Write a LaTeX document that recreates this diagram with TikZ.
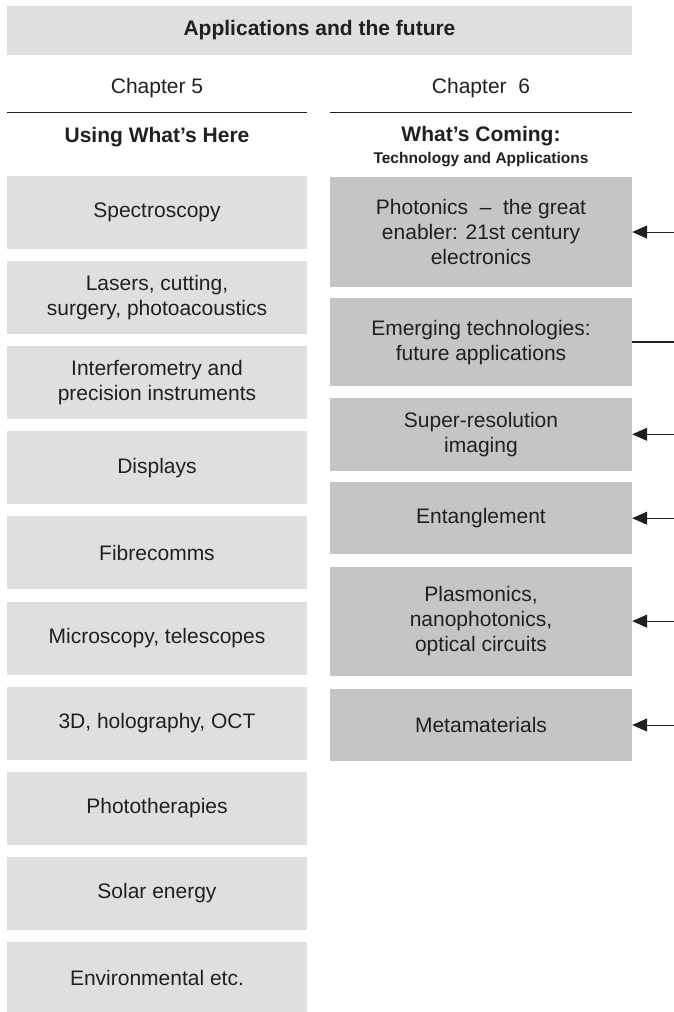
\documentclass[tikz,border=0pt]{standalone}
\usepackage{fontspec}
\setmainfont{Liberation Sans}
\usetikzlibrary{arrows.meta, positioning}

\definecolor{boxlight}{RGB}{222,223,225}
\definecolor{boxdark}{RGB}{196,197,199}
\definecolor{ink}{RGB}{35,31,32}

\begin{document}
\begin{tikzpicture}[
    x=1pt, y=1pt,
    every node/.style={font=\fontsize{21}{25}\selectfont, text=ink},
    banner/.style={fill=boxlight, minimum width=625pt, minimum height=49pt, inner sep=0pt, font=\fontsize{21}{25}\selectfont\bfseries},
    usebox/.style={fill=boxlight, minimum width=300pt, minimum height=73pt, inner sep=0pt, align=center},
    futbox/.style={fill=boxdark, minimum width=302pt, inner sep=0pt, align=center},
    chap/.style={inner sep=0pt},
    colhead/.style={inner sep=0pt, font=\fontsize{21}{25}\selectfont\bfseries},
    subhead/.style={inner sep=0pt, font=\fontsize{15.5}{18}\selectfont\bfseries},
    rule/.style={draw=ink, line width=1pt},
    arr/.style={-{Triangle[length=15pt, width=13pt]}, draw=ink, line width=1pt}
  ]
  \useasboundingbox (0,0) rectangle (674,-1012);

  % --- Title ---
  \node[banner] (title) at (319.5,-30.5) {Applications and the future};

  % --- Chapter headings ---
  \node[chap] (ch5) at (157,-88) {Chapter 5};
  \node[chap] (ch6) at (481,-88) {Chapter~~6};
  \draw[rule] (7,-112) -- (307,-112);
  \draw[rule] (330,-112) -- (632,-112);
  \node[colhead] (here) at (157,-137) {Using What’s Here};
  \node[colhead] (coming) at (481,-136) {What’s Coming:};
  \node[subhead, below=6pt of coming] (techapp) {Technology and Applications};

  % --- Chapter 5 column ---
  \node[usebox] (spec) at (157,-212.5) {Spectroscopy};
  \node[usebox, below=11.7pt of spec] (lasers) {Lasers, cutting,\\surgery, photoacoustics};
  \node[usebox, below=11.7pt of lasers] (interf) {Interferometry and\\precision instruments};
  \node[usebox, below=11.7pt of interf] (displ) {Displays};
  \node[usebox, below=11.7pt of displ] (fibre) {Fibrecomms};
  \node[usebox, below=11.7pt of fibre] (micro) {Microscopy, telescopes};
  \node[usebox, below=11.7pt of micro] (holo) {3D, holography, OCT};
  \node[usebox, below=11.7pt of holo] (photo) {Phototherapies};
  \node[usebox, below=11.7pt of photo] (solar) {Solar energy};
  \node[usebox, below=11.7pt of solar] (envir) {Environmental etc.};

  % --- Chapter 6 column ---
  \node[futbox, minimum height=110pt] (phot) at (481,-232) {Photonics~~–~~the great\\enabler: 21st century\\electronics};
  \node[futbox, minimum height=88pt, below=11pt of phot] (emerg) {Emerging technologies:\\future applications};
  \node[futbox, minimum height=73pt, below=11pt of emerg] (super) {Super-resolution\\imaging};
  \node[futbox, minimum height=72pt, below=11pt of super] (entang) {Entanglement};
  \node[futbox, minimum height=109pt, below=12pt of entang] (plasm) {Plasmonics,\\nanophotonics,\\optical circuits};
  \node[futbox, minimum height=72pt, below=13pt of plasm] (meta) {Metamaterials};

  % --- Lines from the right edge ---
  \coordinate (tphot) at ([xshift=42pt]phot.east);
  \coordinate (temerg) at ([xshift=42pt]emerg.east);
  \coordinate (tsuper) at ([xshift=42pt]super.east);
  \coordinate (tentang) at ([xshift=42pt]entang.east);
  \coordinate (tplasm) at ([xshift=42pt]plasm.east);
  \coordinate (tmeta) at ([xshift=42pt]meta.east);
  \draw[arr] (tphot) -- (phot.east);
  \draw[draw=ink, line width=2pt] (temerg) -- (emerg.east);
  \draw[arr] (tsuper) -- (super.east);
  \draw[arr] (tentang) -- (entang.east);
  \draw[arr] (tplasm) -- (plasm.east);
  \draw[arr] (tmeta) -- (meta.east);

\end{tikzpicture}
\end{document}
